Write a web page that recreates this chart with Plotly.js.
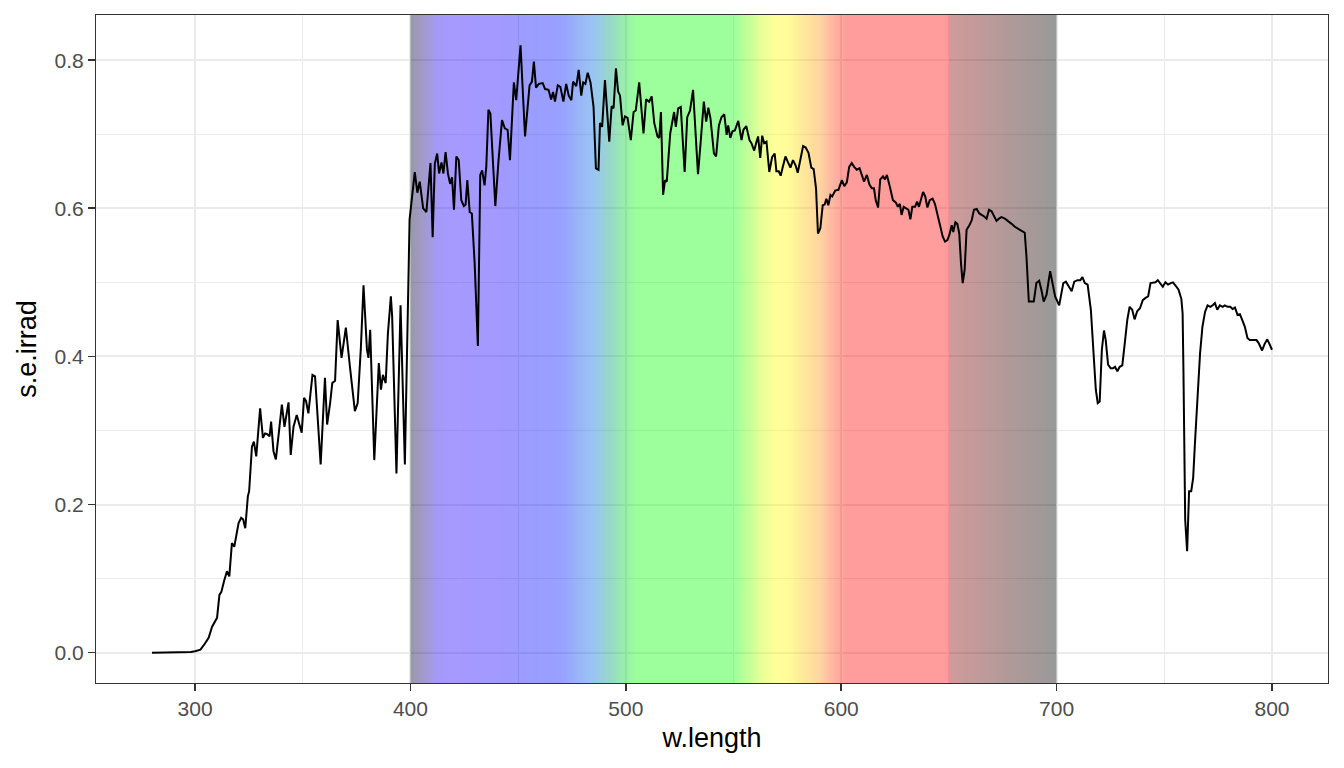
<!DOCTYPE html>
<html>
<head>
<meta charset="utf-8">
<script src="https://cdn.plot.ly/plotly-3.0.1.min.js"></script>
<style>
  html, body { margin: 0; padding: 0; background: #fff; }
  #plot { width: 1344px; height: 768px; }
</style>
</head>
<body>
<div id="plot"></div>
<script>
/* ===== spectrum (nm, s.e.irrad) ===== */
const wLength = [
  280, 290, 296, 298, 300, 302.5, 304.5, 306.3, 307.9, 309, 310.2, 311.3, 312.2, 313.5, 314.8, 315.9,
  317.1, 318.2, 319.2, 320.2, 321.4, 322.3, 323.3, 324.5, 325.1, 326.4, 327.3, 328.4, 330.2, 331.5,
  332.5, 333.5, 334.6, 335.3, 336.4, 337.5, 338.7, 340.3, 341.5, 343.4, 344.4, 345.7, 347.2, 348.3,
  349.5, 350.6, 351.5, 352.6, 354.5, 355.7, 357, 358.3, 360.3, 361.3, 362.7, 363.7, 365, 366.2, 368,
  370, 371.9, 374.2, 375.5, 377, 378.2, 379.8, 380.5, 381.3, 383.2, 385.3, 386.3, 387.2, 388.5, 389.5,
  390.9, 391.5, 393.5, 395.4, 397.4, 398.9, 399.6, 402, 403.2, 404.3, 405.9, 407.4, 409.3, 410.3,
  411.3, 412.4, 413.3, 414.4, 415.3, 416.3, 417.4, 418.4, 419.3, 420.2, 421.3, 422.4, 423.6, 424.8,
  425.6, 426.4, 427.5, 428.5, 429.8, 431.3, 432.4, 433.3, 434.4, 435.2, 436.2, 437.1, 439.4, 440.9,
  442.5, 443.8, 445.1, 446.2, 448, 449.1, 451.1, 453.2, 455.3, 456.4, 457.3, 458.3, 459.6, 461.4,
  462.5, 464.1, 465.3, 466.2, 467.1, 468.4, 469.6, 471, 472.3, 473.5, 474.7, 475.5, 477, 478.1, 479.3,
  480.2, 481.2, 482.3, 483.6, 485, 486.1, 487.3, 488, 489, 490.3, 492.3, 493.4, 494.3, 495.4, 496.4,
  497.3, 498.5, 499.6, 500.8, 502.3, 503.6, 504.6, 506.2, 508.2, 509.4, 510.8, 512, 513.2, 514.7,
  515.5, 516.3, 517.3, 518.2, 519, 520.6, 522.4, 523.2, 524.3, 525.5, 527.3, 528.5, 529.8, 531.2,
  532.4, 533.5, 534.7, 536.2, 537.3, 538.3, 539.3, 540.9, 541.9, 543.2, 544.4, 545.7, 546.8, 547.5,
  548.5, 549.5, 550.6, 552.2, 553.7, 554.6, 555.9, 557.4, 558.3, 559.6, 560.5, 561.4, 562.4, 563.3,
  564.2, 565.3, 566.6, 567.9, 569.1, 569.9, 571, 571.9, 572.8, 574.1, 575.3, 576.4, 577.6, 578.8,
  579.8, 581.1, 582.3, 583.5, 584.8, 586.1, 587.2, 588.3, 589.2, 590.3, 591.4, 592.3, 593.1, 594,
  595, 595.8, 597.2, 598.7, 600.3, 601.4, 602.6, 603.7, 604.9, 606, 607.2, 608.5, 609.5, 610.6,
  611.9, 613.1, 614.2, 615.2, 616, 617.1, 618.1, 619.4, 620.3, 621.2, 622.5, 624, 625.3, 626.3,
  627.2, 628, 629, 630.3, 631.2, 632.1, 633, 634.3, 635.2, 636.1, 637.1, 638, 639, 640, 641.1, 642.4,
  643.5, 644.6, 645.8, 647.1, 648.2, 649.3, 650.2, 651.3, 652, 653, 653.9, 654.8, 655.6, 656.4,
  657.3, 658.2, 659.5, 660.6, 661.6, 662.9, 664.1, 665.4, 666.4, 667.5, 668.6, 669.8, 670.9, 672.1,
  673.2, 674.4, 676, 677.5, 679.1, 680.6, 682.2, 683.7, 685.2, 686, 687.1, 688.3, 689.4, 690.6,
  691.9, 693, 694, 695.3, 697, 698.1, 699.3, 701.2, 703.1, 704.3, 705.6, 707, 708.2, 709.7, 711, 712,
  713.1, 714.4, 715.9, 717.1, 718.2, 719.1, 720, 721, 722, 722.8, 723.9, 725.1, 726.2, 727.1, 728.2,
  729.3, 730.5, 731.8, 732.8, 733.9, 735.1, 736.2, 737.4, 738.7, 740, 741.3, 742.5, 743.6, 744.7,
  745.9, 747, 748.2, 749.3, 750.5, 751.7, 753, 754, 755.4, 756.6, 757.9, 758.5, 758.9, 759.7, 760.6,
  761.5, 762.5, 763.4, 764.3, 765.5, 766.6, 767.7, 768.9, 770.1, 771.4, 772.5, 773.5, 774.6, 775.8,
  777.1, 778.1, 779.4, 780.6, 781.7, 782.8, 784, 785.1, 786.2, 787.4, 788.6, 789.7, 791.2, 792.8,
  793.8, 795.4, 796.6, 797.8, 798.8, 800
];
const seIrrad = [
  0, 0, 0, 0.001, 0.002, 0.004, 0.012, 0.02, 0.035, 0.04, 0.047, 0.078, 0.082, 0.097, 0.11, 0.103,
  0.148, 0.143, 0.162, 0.175, 0.182, 0.18, 0.168, 0.211, 0.218, 0.278, 0.285, 0.265, 0.33, 0.29,
  0.296, 0.295, 0.292, 0.312, 0.272, 0.261, 0.292, 0.335, 0.305, 0.338, 0.267, 0.305, 0.321, 0.31,
  0.297, 0.344, 0.34, 0.323, 0.375, 0.373, 0.32, 0.254, 0.371, 0.308, 0.337, 0.364, 0.367, 0.449, 0.398,
  0.439, 0.386, 0.326, 0.337, 0.413, 0.496, 0.409, 0.398, 0.436, 0.26, 0.391, 0.355, 0.375, 0.364, 0.43,
  0.481, 0.454, 0.242, 0.469, 0.254, 0.517, 0.585, 0.649, 0.621, 0.636, 0.6, 0.595, 0.661, 0.561,
  0.66, 0.674, 0.647, 0.662, 0.647, 0.676, 0.647, 0.633, 0.642, 0.598, 0.67, 0.665, 0.611, 0.603,
  0.605, 0.638, 0.595, 0.593, 0.526, 0.414, 0.645, 0.651, 0.631, 0.656, 0.733, 0.728, 0.603, 0.665,
  0.719, 0.708, 0.706, 0.665, 0.77, 0.746, 0.82, 0.697, 0.766, 0.771, 0.798, 0.763, 0.768, 0.769,
  0.761, 0.76, 0.747, 0.757, 0.744, 0.766, 0.764, 0.744, 0.768, 0.752, 0.746, 0.771, 0.765, 0.787, 0.752,
  0.77, 0.768, 0.783, 0.77, 0.737, 0.654, 0.652, 0.715, 0.71, 0.773, 0.69, 0.738, 0.735, 0.789, 0.758,
  0.752, 0.712, 0.724, 0.722, 0.692, 0.73, 0.732, 0.77, 0.701, 0.747, 0.744, 0.751, 0.715, 0.697,
  0.695, 0.73, 0.618, 0.638, 0.636, 0.701, 0.73, 0.71, 0.735, 0.737, 0.649, 0.723, 0.732, 0.76,
  0.697, 0.646, 0.688, 0.744, 0.717, 0.736, 0.721, 0.674, 0.67, 0.712, 0.723, 0.727, 0.699, 0.712,
  0.695, 0.704, 0.705, 0.718, 0.692, 0.706, 0.711, 0.692, 0.688, 0.678, 0.688, 0.697, 0.668, 0.698,
  0.688, 0.69, 0.649, 0.669, 0.674, 0.65, 0.65, 0.644, 0.655, 0.67, 0.662, 0.655, 0.665, 0.658,
  0.648, 0.665, 0.684, 0.682, 0.675, 0.655, 0.653, 0.627, 0.566, 0.573, 0.604, 0.605, 0.613, 0.604,
  0.618, 0.616, 0.624, 0.625, 0.638, 0.63, 0.635, 0.656, 0.661, 0.656, 0.652, 0.654, 0.645, 0.636,
  0.645, 0.632, 0.627, 0.627, 0.611, 0.601, 0.639, 0.643, 0.639, 0.645, 0.63, 0.611, 0.608, 0.602,
  0.606, 0.591, 0.602, 0.6, 0.598, 0.585, 0.602, 0.602, 0.609, 0.602, 0.613, 0.622, 0.616, 0.601, 0.611, 0.613,
  0.606, 0.593, 0.575, 0.562, 0.555, 0.557, 0.564, 0.577, 0.568, 0.581, 0.579, 0.566, 0.526, 0.499,
  0.517, 0.571, 0.577, 0.584, 0.598, 0.599, 0.593, 0.591, 0.589, 0.586, 0.598, 0.596, 0.589, 0.583,
  0.586, 0.588, 0.586, 0.583, 0.579, 0.575, 0.572, 0.57, 0.567, 0.535, 0.474, 0.474, 0.474, 0.499,
  0.502, 0.489, 0.474, 0.483, 0.515, 0.499, 0.481, 0.469, 0.499, 0.501, 0.494, 0.488, 0.501, 0.503, 0.503, 0.507,
  0.499, 0.497, 0.463, 0.4, 0.355, 0.337, 0.339, 0.409, 0.435, 0.422, 0.389, 0.384, 0.384, 0.386, 0.38,
  0.386, 0.388, 0.422, 0.449, 0.467, 0.463, 0.45, 0.461, 0.465, 0.476, 0.479, 0.481, 0.499, 0.499,
  0.5, 0.503, 0.498, 0.494, 0.5, 0.497, 0.499, 0.5, 0.495, 0.49, 0.478, 0.458, 0.377, 0.179, 0.137,
  0.218, 0.218, 0.236, 0.287, 0.355, 0.404, 0.44, 0.46, 0.469, 0.467, 0.469, 0.472, 0.463, 0.469,
  0.467, 0.469, 0.467, 0.467, 0.464, 0.466, 0.456, 0.457, 0.449, 0.44, 0.425, 0.422, 0.422, 0.422,
  0.418, 0.408, 0.417, 0.423, 0.417, 0.409
];

/* ===== visible band: wavelength -> colour stops (drawn at alpha .4) ===== */
const bandStart = 400;
const bandEnd = 700;
const bandStops = [400, 405, 412, 418, 440, 455, 470, 478, 485, 492, 498, 505, 550, 556, 563, 570,
                   576, 582, 590, 597, 603, 650, 650.01, 700];
const bandColors = [
  "rgb(0,0,40)", "rgb(20,0,110)", "rgb(30,0,230)", "rgb(35,0,255)", "rgb(25,0,255)", "rgb(5,10,255)",
  "rgb(0,20,255)", "rgb(0,70,240)", "rgb(0,110,220)", "rgb(0,150,130)", "rgb(0,200,60)", "rgb(8,255,8)",
  "rgb(8,255,8)", "rgb(90,255,0)", "rgb(200,255,0)", "rgb(255,255,0)", "rgb(255,245,0)", "rgb(255,200,0)",
  "rgb(255,150,20)", "rgb(255,60,20)", "rgb(255,8,8)", "rgb(255,8,8)", "rgb(140,5,5)", "rgb(0,0,0)"
];

const xTicks = [300, 400, 500, 600, 700, 800];
const yTicks = [0, 0.2, 0.4, 0.6, 0.8];

/* heatmap cells, one per nm */
const bandEdges = [];
const bandZ = [];
for (let w = bandStart; w <= bandEnd; w++) {
  bandEdges.push(w);
  if (w < bandEnd) bandZ.push(w + 0.5);
}
const bandScale = bandStops.map((s, i) => [(s - bandStart) / (bandEnd - bandStart), bandColors[i]]);

const yRange = [-0.041, 0.861];

const traces = [
  {
    type: "heatmap",
    x: bandEdges,
    y: [yRange[0] - 0.05, yRange[1] + 0.05],
    z: [bandZ],
    zmin: bandStart,
    zmax: bandEnd,
    colorscale: bandScale,
    showscale: false,
    opacity: 0.4,
    hoverinfo: "skip",
  },
  {
    type: "scatter",
    mode: "lines",
    x: wLength,
    y: seIrrad,
    line: { color: "#000000", width: 2 },
    hoverinfo: "skip",
  },
];

const axisCommon = {
  showline: true,
  mirror: true,
  linecolor: "#333333",
  linewidth: 1.1,
  showgrid: true,
  gridcolor: "#EBEBEB",
  gridwidth: 2,
  zeroline: false,
  ticks: "outside",
  ticklen: 7,
  tickwidth: 1.6,
  tickcolor: "#333333",
  tickfont: { family: "Liberation Sans, Arial, sans-serif", size: 21, color: "#4D4D4D" },
};

const layout = {
  width: 1344,
  height: 768,
  paper_bgcolor: "#ffffff",
  plot_bgcolor: "#ffffff",
  showlegend: false,
  margin: { l: 96, r: 16, t: 15, b: 85 },
  xaxis: Object.assign({}, axisCommon, {
    range: [254, 826],
    tickvals: xTicks,
    ticktext: xTicks.map(String),
    minor: { tickvals: [350, 450, 550, 650, 750], showgrid: true, gridcolor: "#EBEBEB", gridwidth: 1 },
    title: { text: "w.length", font: { family: "Liberation Sans, Arial, sans-serif", size: 27, color: "#000000" }, standoff: 8 },
  }),
  yaxis: Object.assign({}, axisCommon, {
    range: yRange,
    tickvals: yTicks,
    ticktext: yTicks.map((v) => v.toFixed(1)),
    minor: { tickvals: [0.1, 0.3, 0.5, 0.7], showgrid: true, gridcolor: "#EBEBEB", gridwidth: 1 },
    title: { text: "s.e.irrad", font: { family: "Liberation Sans, Arial, sans-serif", size: 27, color: "#000000" }, standoff: 10 },
  }),
};

Plotly.newPlot("plot", traces, layout, { staticPlot: true, displayModeBar: false });
</script>
</body>
</html>
